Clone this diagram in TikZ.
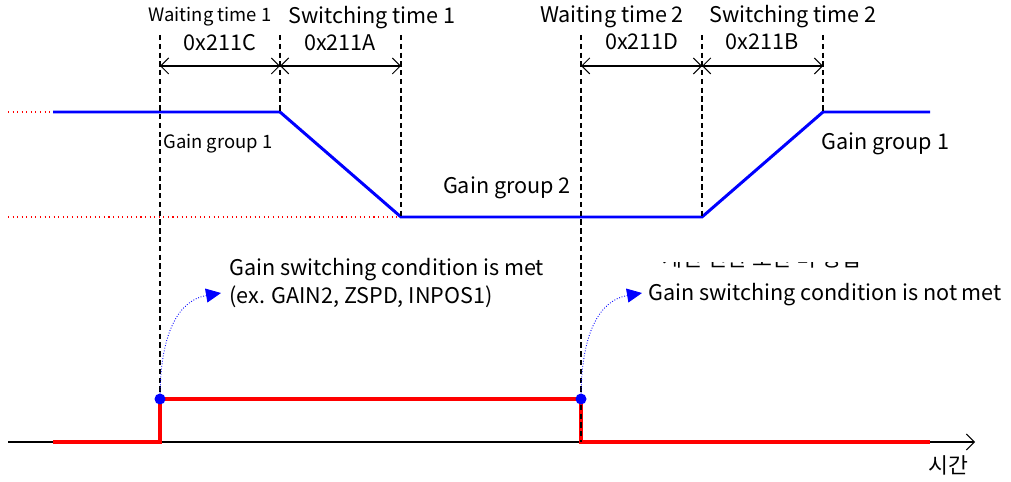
\documentclass[tikz,border=0pt]{standalone}
\usepackage{fontspec}
\setmainfont{Noto Sans CJK KR}
\usetikzlibrary{arrows.meta}
\tikzset{
  guide/.style={draw, line width=0.7pt, dash pattern=on 3pt off 2pt},
  gain/.style={draw=blue, line width=1.7pt},
  pulse/.style={draw=red, line width=2.2pt},
  refline/.style={draw=red, dotted, line width=0.6pt},
  span/.style={draw, line width=0.6pt, {Straight Barb[length=1.6mm,width=3.2mm]}-{Straight Barb[length=1.6mm,width=3.2mm]}},
  cond/.style={draw=blue, densely dotted, line width=0.5pt, -{Triangle[length=3mm,width=2.8mm]}},
  dot/.style={circle, fill=blue, inner sep=0pt, minimum size=2.2mm},
  lbl/.style={inner sep=0pt, font=\fontsize{12.3}{14}\selectfont},
  small/.style={inner sep=0pt, font=\fontsize{10.5}{12}\selectfont},
}
\begin{document}
\begin{tikzpicture}[x=0.02cm, y=-0.02cm]
    \useasboundingbox (0,0) rectangle (1011,482);

    % Points
    \coordinate (T1) at (160,35);
    \coordinate (T2) at (280,35);
    \coordinate (T3) at (401,35);
    \coordinate (T4) at (581,35);
    \coordinate (T5) at (702,35);
    \coordinate (T6) at (823,35);
    \coordinate (S1) at (160,66);
    \coordinate (S2) at (280,66);
    \coordinate (S3) at (401,66);
    \coordinate (S4) at (581,66);
    \coordinate (S5) at (702,66);
    \coordinate (S6) at (823,66);
    \coordinate (R1) at (8,112);
    \coordinate (R2) at (8,217);
    \coordinate (G0) at (53,112);
    \coordinate (G1) at (280,112);
    \coordinate (G2) at (401,217);
    \coordinate (G3) at (702,217);
    \coordinate (G4) at (823,112);
    \coordinate (G5) at (930,112);
    \coordinate (O) at (8,442);
    \coordinate (X) at (975,442);
    \coordinate (P0) at (53,442);
    \coordinate (P1) at (160,442);
    \coordinate (P2) at (160,399);
    \coordinate (P3) at (581,399);
    \coordinate (P4) at (581,442);
    \coordinate (P5) at (930,442);
    \coordinate (C1) at (221,293);
    \coordinate (C2) at (642,293);

    % Nodes
    \node[small] (w1) at (210,17) {Waiting time 1};
    \node[lbl] (s1) at (372,18) {Switching time 1};
    \node[lbl] (h1) at (220,43) {0x211C};
    \node[lbl] (h2) at (340,43) {0x211A};
    \node[lbl] (w2) at (612,17) {Waiting time 2};
    \node[lbl] (s2) at (793,17) {Switching time 2};
    \node[lbl] (h3) at (642,42) {0x211D};
    \node[lbl] (h4) at (762,42) {0x211B};
    \node[small, anchor=west] (gg1) at (163,144) {Gain group 1};
    \node[lbl] (gg2) at (507,188) {Gain group 2};
    \node[lbl, anchor=west] (gg3) at (821,144) {Gain group 1};
    \node[lbl, anchor=west] (met) at (229,270) {Gain switching condition is met};
    \node[lbl, anchor=west] (ex) at (229,297) {(ex. GAIN2, ZSPD, INPOS1)};
    \node[lbl, anchor=west] (notmet) at (648,295) {Gain switching condition is not met};
    \node[lbl] (time) at (948,465) {시간};
    \begin{scope}
        \clip (600,263) rectangle (900,275);
        \node[lbl] (kr) at (762,258) {게인 전환 조건 미 성립};
    \end{scope}

    % Lines
    \draw[refline] (R1) -- (G0);
    \draw[refline] (R2) -- (G2);
    \draw[gain] (G0) -- (G1) -- (G2) -- (G3) -- (G4) -- (G5);
    \draw[line width=0.6pt, -{Straight Barb[length=1.6mm,width=3.2mm]}] (O) -- (X);
    \draw[pulse] (P0) -- (P1) -- (P2) -- (P3) -- (P4) -- (P5);
    \node[dot] (A) at (P2) {};
    \node[dot] (B) at (P3) {};

    \draw[guide] (T1) -- (A);
    \draw[guide] (T2) -- (G1);
    \draw[guide] (T3) -- (G2);
    \draw[guide] (T4) -- (B);
    \draw[guide] (B) -- (P4);
    \draw[guide] (T5) -- (G3);
    \draw[guide] (T6) -- (G4);

    \draw[span] (S1) -- (S2);
    \draw[span] (S2) -- (S3);
    \draw[span] (S4) -- (S5);
    \draw[span] (S5) -- (S6);

    \draw[cond] (A) .. controls (161,330) and (180,300) .. (C1);
    \draw[cond] (B) .. controls (582,330) and (601,300) .. (C2);
\end{tikzpicture}
\end{document}
